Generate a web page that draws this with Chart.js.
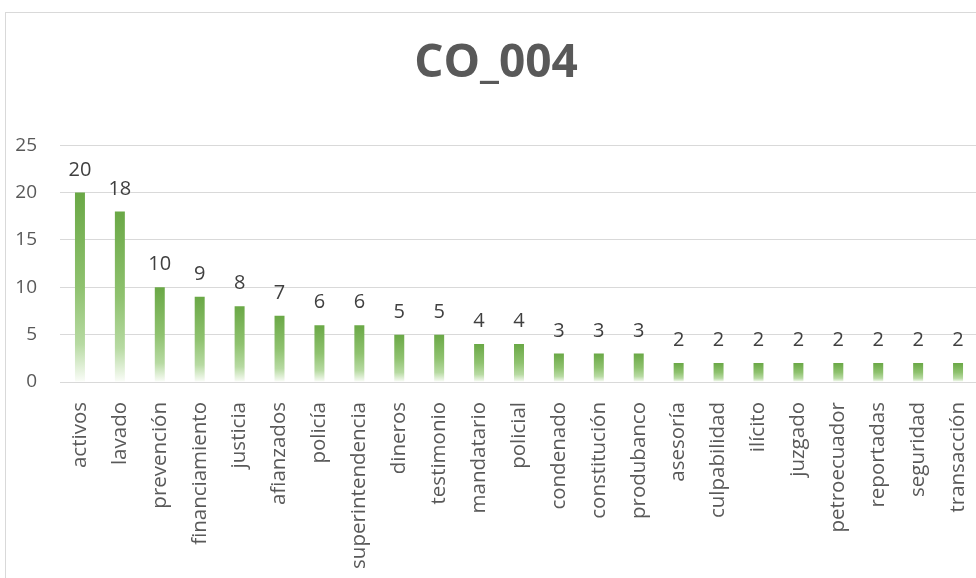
<!DOCTYPE HTML>
<html>
	<head>
		<title>CO_004</title>
		<meta charset="utf-8" />
		<script src="https://cdn.jsdelivr.net/npm/chart.js@4.4.1/dist/chart.umd.min.js"></script>
		<style>
			html, body { margin: 0; padding: 0; width: 976px; height: 578px; overflow: hidden; background: #fff; }
			#frame { position: absolute; left: 5px; top: 12px; width: 1100px; height: 700px; border: 1px solid #d9d9d9; }
			#myChart { position: absolute; left: 0; top: 0; }
		</style>
	</head>
	<body>
		<div id="frame"></div>
		<canvas id="myChart" width="978" height="578"></canvas>
	</body>
<script type="text/javascript">
var terms = ["activos", "lavado", "prevención", "financiamiento", "justicia", "afianzados", "policía",
	"superintendencia", "dineros", "testimonio", "mandatario", "policial", "condenado", "constitución",
	"produbanco", "asesoría", "culpabilidad", "ilícito", "juzgado", "petroecuador", "reportadas",
	"seguridad", "transacción"];
var counts = [20, 18, 10, 9, 8, 7, 6, 6, 5, 5, 4, 4, 3, 3, 3, 2, 2, 2, 2, 2, 2, 2, 2];
var yTicks = [0, 5, 10, 15, 20, 25];

var FONT = "'Open Sans', 'Noto Sans', sans-serif";

// each bar fades from green at the top to white at the baseline
function barGradient(c) {
	var chart = c.chart;
	var y = chart.scales.y;
	if (!y || c.type !== 'data') return '#70ad47';
	var top = y.getPixelForValue(c.raw);
	var bottom = y.getPixelForValue(0);
	if (!isFinite(top) || !isFinite(bottom) || top === bottom) return '#70ad47';
	var g = chart.ctx.createLinearGradient(0, top, 0, bottom);
	g.addColorStop(0, '#6aa846');
	g.addColorStop(0.5, '#8fc26f');
	g.addColorStop(0.8, '#b7daa2');
	g.addColorStop(1, '#fbfdf9');
	return g;
}

// value printed above every bar
var valueLabels = {
	id: 'valueLabels',
	afterDatasetsDraw: function(chart) {
		var ctx = chart.ctx;
		var meta = chart.getDatasetMeta(0);
		ctx.save();
		ctx.font = '20px ' + FONT;
		ctx.fillStyle = '#404040';
		ctx.textAlign = 'center';
		ctx.textBaseline = 'alphabetic';
		meta.data.forEach(function(bar, i) {
			ctx.fillText(counts[i], bar.x, bar.y - 17);
		});
		ctx.restore();
	}
};

var ctx = document.getElementById("myChart");
var myChart = new Chart(ctx, {
	type: 'bar',
	data: {
		labels: terms,
		datasets: [{
			data: counts,
			backgroundColor: barGradient,
			borderWidth: 0,
			barPercentage: 0.25,
			categoryPercentage: 1
		}]
	},
	plugins: [valueLabels],
	options: {
		responsive: false,
		animation: false,
		events: [],
		layout: { padding: { left: 14, right: 0, top: 0, bottom: 0 } },
		plugins: {
			legend: { display: false },
			tooltip: { enabled: false },
			title: {
				display: true,
				text: 'CO_004',
				color: '#595959',
				font: { family: FONT, size: 46, weight: 'bold' },
				padding: { top: 36, bottom: 54 }
			}
		},
		scales: {
			x: {
				grid: { display: false },
				border: { display: true, color: '#d9d9d9' },
				ticks: {
					color: '#595959',
					font: { family: FONT, size: 20.5 },
					minRotation: 90,
					maxRotation: 90,
					autoSkip: false,
					padding: 12
				},
				afterFit: function(scale) {
					scale.height = 196;
					scale.paddingLeft = 0;
					scale.paddingRight = 0;
				}
			},
			y: {
				min: 0,
				max: 25,
				afterBuildTicks: function(scale) {
					scale.ticks = yTicks.map(function(v) { return { value: v }; });
				},
				grid: { color: '#d9d9d9', drawTicks: false },
				border: { display: false },
				ticks: {
					color: '#595959',
					font: { family: FONT, size: 19 },
					padding: 23
				},
				afterFit: function(scale) { scale.width = 46; }
			}
		}
	}
});
</script>
</html>
